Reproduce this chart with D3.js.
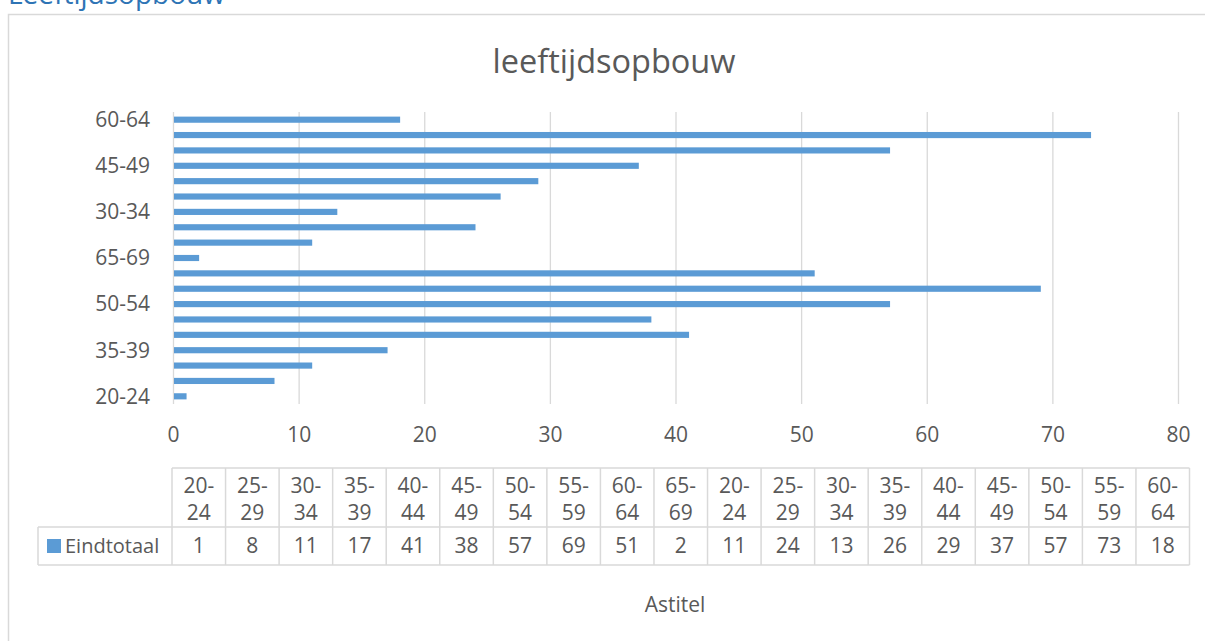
<!DOCTYPE html>
<html>
<head>
<meta charset="utf-8">
<script src="https://cdn.jsdelivr.net/npm/d3@7"></script>
<style>
  html, body { margin: 0; padding: 0; background: #fff; overflow: hidden; }
  svg { display: block; }
  text { font-family: 'Open Sans', sans-serif; fill: #595959; }
</style>
</head>
<body>
<svg id="chart" width="1205" height="641"></svg>
<script>
// Age groups (two blocks in the source pivot, hence the repeated labels)
const categories = ["20-24","25-29","30-34","35-39","40-44","45-49","50-54","55-59","60-64","65-69",
                    "20-24","25-29","30-34","35-39","40-44","45-49","50-54","55-59","60-64"];
const values = [1, 8, 11, 17, 41, 38, 57, 69, 51, 2, 11, 24, 13, 26, 29, 37, 57, 73, 18];
const seriesName = "Eindtotaal";
const xTicks = [0, 10, 20, 30, 40, 50, 60, 70, 80];
const chartTitle = "leeftijdsopbouw";
const pageHeading = "Leeftijdsopbouw";
const axisTitle = "Astitel";

const barColor = "#5B9BD5";
const lineColor = "#d9d9d9";

const svg = d3.select("#chart");
const idx = d3.range(categories.length);

// Document heading, partly above the visible area
svg.append("text")
  .attr("x", 8).attr("y", 4)
  .style("font-size", "28px").style("fill", "#2E74B5")
  .text(pageHeading);

// Chart frame
svg.append("rect")
  .attr("x", 8.5).attr("y", 14.5)
  .attr("width", 1300).attr("height", 700)
  .attr("fill", "none").attr("stroke", lineColor).attr("stroke-width", 1.5);

// Title
svg.append("text")
  .attr("x", 614).attr("y", 73)
  .attr("text-anchor", "middle")
  .style("font-size", "32.5px")
  .text(chartTitle);

// Scales
const x = d3.scaleLinear().domain([0, 80]).range([173, 1178]);
const y = d3.scaleBand().domain(idx).range([404, 112]).paddingInner(0.6).paddingOuter(0.3);

// Gridlines
svg.append("g").selectAll("line").data(xTicks).join("line")
  .attr("x1", d => x(d) + 0.5).attr("x2", d => x(d) + 0.5)
  .attr("y1", 112).attr("y2", 404)
  .attr("stroke", lineColor).attr("stroke-width", 1.3);

// Bars
svg.append("g").selectAll("rect").data(idx).join("rect")
  .attr("x", x(0) + 1)
  .attr("y", i => y(i))
  .attr("width", i => x(values[i]) - x(0))
  .attr("height", y.bandwidth())
  .attr("fill", barColor);

// Category axis: every third label
const yAxis = d3.axisLeft(y)
  .tickValues(idx.filter(i => i % 3 === 0))
  .tickFormat(i => categories[i])
  .tickSize(0).tickPadding(0);
const gy = svg.append("g").attr("transform", "translate(150,0)").call(yAxis);
gy.select(".domain").remove();
gy.selectAll("text").style("font-size", "21px").attr("fill", "#595959").attr("dy", "0.35em");

// Value axis labels
const xAxis = d3.axisBottom(x).tickValues(xTicks).tickSize(0).tickPadding(0);
const gx = svg.append("g").attr("transform", "translate(0,427)").call(xAxis);
gx.select(".domain").remove();
gx.selectAll("text").style("font-size", "21px").attr("fill", "#595959").attr("dy", "0.71em");

// Data table
const col = d3.scaleBand().domain(idx).range([172, 1189.5]);
const tTop = 468, tMid = 527, tBot = 565, legendLeft = 38;
const table = svg.append("g").attr("stroke", lineColor).attr("stroke-width", 1.5).attr("fill", "none");
// horizontal rules
table.append("line").attr("x1", col.range()[0]).attr("x2", col.range()[1]).attr("y1", tTop).attr("y2", tTop);
table.append("line").attr("x1", legendLeft).attr("x2", col.range()[1]).attr("y1", tMid).attr("y2", tMid);
table.append("line").attr("x1", legendLeft).attr("x2", col.range()[1]).attr("y1", tBot).attr("y2", tBot);
// vertical rules
table.append("line").attr("x1", legendLeft).attr("x2", legendLeft).attr("y1", tMid).attr("y2", tBot);
table.selectAll(".v").data(idx.concat([categories.length])).join("line")
  .attr("class", "v")
  .attr("x1", i => i < categories.length ? col(i) : col.range()[1])
  .attr("x2", i => i < categories.length ? col(i) : col.range()[1])
  .attr("y1", tTop).attr("y2", tBot);

// header cells: age group split over two lines
const head = svg.append("g").selectAll("text").data(idx).join("text")
  .attr("x", i => col(i) + col.bandwidth() / 2)
  .attr("text-anchor", "middle")
  .style("font-size", "21px");
head.append("tspan").attr("x", i => col(i) + col.bandwidth() / 2).attr("y", 493)
  .text(i => categories[i].split("-")[0] + "-");
head.append("tspan").attr("x", i => col(i) + col.bandwidth() / 2).attr("y", 520)
  .text(i => categories[i].split("-")[1]);

// value cells
svg.append("g").selectAll("text").data(idx).join("text")
  .attr("x", i => col(i) + col.bandwidth() / 2)
  .attr("y", 553)
  .attr("text-anchor", "middle")
  .style("font-size", "21px")
  .text(i => values[i]);

// legend cell
svg.append("rect").attr("x", 47).attr("y", 539).attr("width", 14).attr("height", 14).attr("fill", barColor);
svg.append("text").attr("x", 65).attr("y", 553).style("font-size", "20px").text(seriesName);

// Axis title
svg.append("text")
  .attr("x", 675).attr("y", 612)
  .attr("text-anchor", "middle")
  .style("font-size", "21px")
  .text(axisTitle);
</script>
</body>
</html>
